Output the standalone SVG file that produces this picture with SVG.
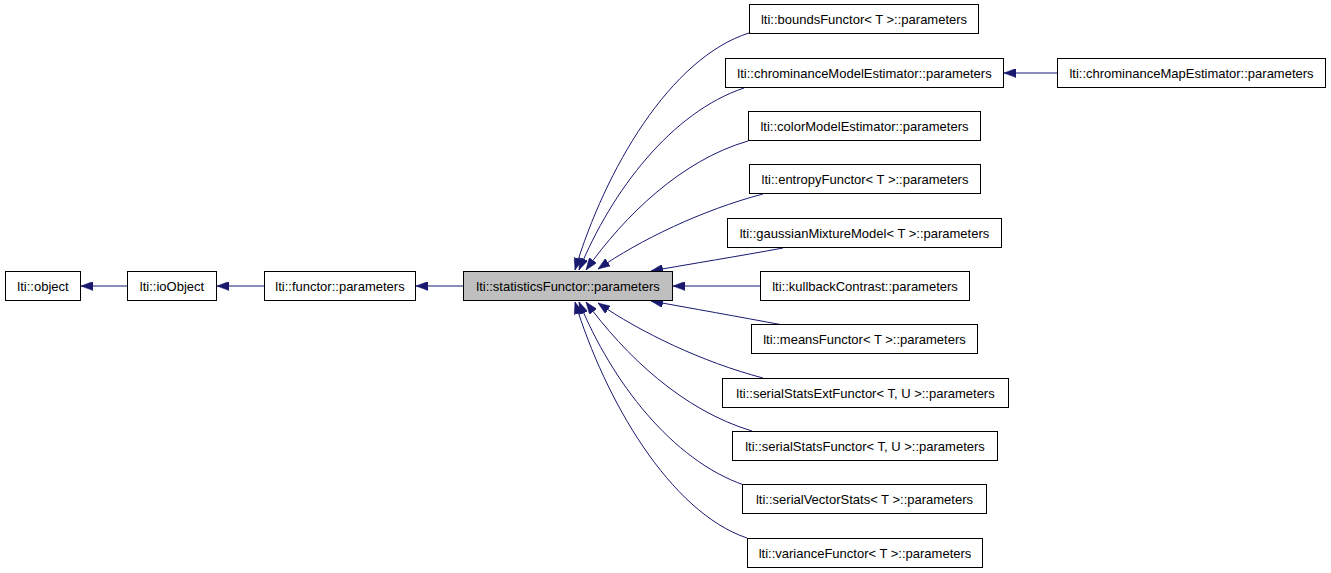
<svg xmlns="http://www.w3.org/2000/svg" width="1331" height="573" viewBox="0 0 1331 573">
<style>
.n rect{fill:#ffffff;stroke:#000000;stroke-width:1}
.n.hl rect{fill:#bfbfbf}
.n text{font-family:"Liberation Sans",Arial,sans-serif;font-size:13px;fill:#000000;text-anchor:middle}
.e path{fill:none;stroke:#191970;stroke-width:1;marker-end:url(#ah)}
</style>
<defs>
<marker id="ah" markerUnits="userSpaceOnUse" markerWidth="12" markerHeight="9" refX="12" refY="4.5" orient="auto">
<path d="M0,0 L12,4.5 L0,9 z" fill="#191970" stroke="#191970" stroke-width="0.5"/>
</marker>
</defs>
<rect width="1331" height="573" fill="#ffffff"/>
<g id="edges" class="e">
<path d="M127,286 L81,286"/>
<path d="M264,286 L217,286"/>
<path d="M463,286 L416,286"/>
<path d="M1057,73 L1004,73"/>
<path d="M760,286 L673,286"/>
<path d="M749,33 C670,58 605,170 575,270"/>
<path d="M744,88 C672,112 612,190 579,270"/>
<path d="M748,141 C682,160 625,215 586,270"/>
<path d="M763,194 C702,210 640,240 598,269"/>
<path d="M783,248 C740,256 690,264 651,271"/>
<path d="M783,325 C740,317 690,308 651,301"/>
<path d="M763,378 C702,362 640,332 598,303"/>
<path d="M752,431 C682,410 625,355 586,302"/>
<path d="M744,485 C672,460 612,382 579,302"/>
<path d="M747,538 C670,512 605,400 575,302"/>
</g>
<g id="object" class="n"><rect x="5.5" y="271.5" width="75" height="29"/><text x="43" y="290.5">lti::object</text></g>
<g id="ioObject" class="n"><rect x="127.5" y="271.5" width="89" height="29"/><text x="172" y="290.5">lti::ioObject</text></g>
<g id="functorParameters" class="n"><rect x="264.5" y="271.5" width="151" height="29"/><text x="340" y="290.5">lti::functor::parameters</text></g>
<g id="statisticsFunctorParameters" class="n hl"><rect x="463.5" y="271.5" width="209" height="29"/><text x="568" y="290.5">lti::statisticsFunctor::parameters</text></g>
<g id="boundsFunctor" class="n"><rect x="749.5" y="4.5" width="229" height="29"/><text x="864" y="23.5">lti::boundsFunctor&lt; T &gt;::parameters</text></g>
<g id="chrominanceModelEstimator" class="n"><rect x="725.5" y="58.5" width="278" height="29"/><text x="864.5" y="77.5">lti::chrominanceModelEstimator::parameters</text></g>
<g id="chrominanceMapEstimator" class="n"><rect x="1057.5" y="58.5" width="268" height="29"/><text x="1191.5" y="77.5">lti::chrominanceMapEstimator::parameters</text></g>
<g id="colorModelEstimator" class="n"><rect x="748.5" y="111.5" width="232" height="29"/><text x="864.5" y="130.5">lti::colorModelEstimator::parameters</text></g>
<g id="entropyFunctor" class="n"><rect x="749.5" y="164.5" width="231" height="29"/><text x="865" y="183.5">lti::entropyFunctor&lt; T &gt;::parameters</text></g>
<g id="gaussianMixtureModel" class="n"><rect x="727.5" y="218.5" width="274" height="29"/><text x="864.5" y="237.5">lti::gaussianMixtureModel&lt; T &gt;::parameters</text></g>
<g id="kullbackContrast" class="n"><rect x="760.5" y="271.5" width="209" height="29"/><text x="865" y="290.5">lti::kullbackContrast::parameters</text></g>
<g id="meansFunctor" class="n"><rect x="751.5" y="324.5" width="226" height="29"/><text x="864.5" y="343.5">lti::meansFunctor&lt; T &gt;::parameters</text></g>
<g id="serialStatsExtFunctor" class="n"><rect x="722.5" y="378.5" width="286" height="29"/><text x="865.5" y="397.5">lti::serialStatsExtFunctor&lt; T, U &gt;::parameters</text></g>
<g id="serialStatsFunctor" class="n"><rect x="732.5" y="431.5" width="265" height="29"/><text x="865" y="450.5">lti::serialStatsFunctor&lt; T, U &gt;::parameters</text></g>
<g id="serialVectorStats" class="n"><rect x="742.5" y="484.5" width="244" height="29"/><text x="864.5" y="503.5">lti::serialVectorStats&lt; T &gt;::parameters</text></g>
<g id="varianceFunctor" class="n"><rect x="747.5" y="538.5" width="235" height="29"/><text x="865" y="557.5">lti::varianceFunctor&lt; T &gt;::parameters</text></g>
</svg>
